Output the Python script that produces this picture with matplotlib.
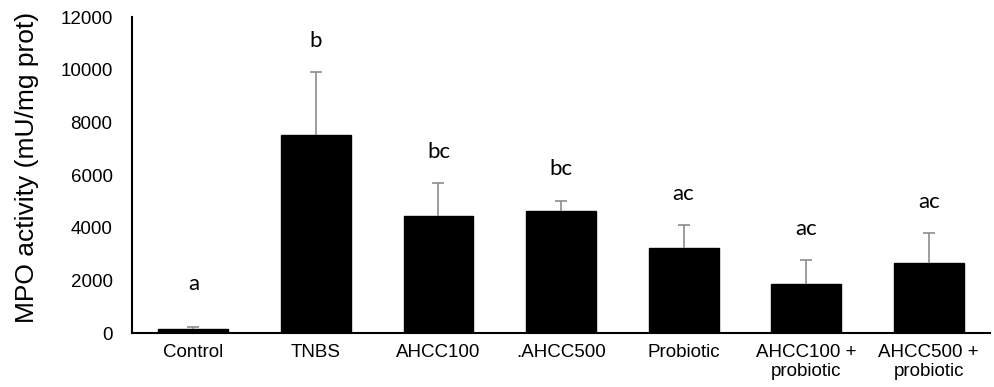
import numpy as np
import matplotlib
matplotlib.use('Agg')
import matplotlib.pyplot as plt

# group names, MPO means and upper error (sd), significance letters
groups = ['Control', 'TNBS', 'AHCC100', '.AHCC500', 'Probiotic',
          'AHCC100 +\nprobiotic', 'AHCC500 +\nprobiotic']
mpo_mean = [150, 7520, 4440, 4620, 3230, 1850, 2660]
mpo_sd = [60, 2400, 1270, 410, 880, 920, 1140]
letters = ['a', 'b', 'bc', 'bc', 'ac', 'ac', 'ac']

plt.rcParams['font.family'] = ['Liberation Sans', 'DejaVu Sans']

fig = plt.figure(figsize=(9.95, 3.87), dpi=100)
ax = fig.add_axes([0.1327, 0.1395, 0.8623, 0.8165])

x = np.arange(len(groups))
mean = np.array(mpo_mean)
top = mean + np.array(mpo_sd)
ax.bar(x, mean, width=0.57, color='black', edgecolor='black', zorder=2)
# upper-only error bars
ax.vlines(x, mean, top, color='#8c8c8c', linewidth=1.2, zorder=3)
ax.plot(x, top, linestyle='none', marker='_', markersize=8,
        markeredgewidth=1.2, color='#8c8c8c', zorder=3)

# letters sit a bit above the error bar
for i in range(len(x)):
    off = 1650 if i == 0 else 1180
    ax.text(x[i], top[i] + off, letters[i], ha='center', va='center',
            fontsize=16, family=['Lato', 'DejaVu Sans'])

ax.set_xlim(-0.5, len(groups) - 0.5)
ax.set_ylim(0, 12000)
ax.set_yticks(range(0, 12001, 2000))
ax.set_xticks(x)
ax.set_xticklabels(groups, fontsize=13.5, linespacing=1.15)
ax.tick_params(axis='y', length=0, pad=14, labelsize=13.5)
ax.tick_params(axis='x', length=0, pad=8)
fig.text(27 / 995, 1 - 167 / 387, 'MPO activity (mU/mg prot)', fontsize=19,
         rotation=90, ha='center', va='center')

ax.spines['top'].set_visible(False)
ax.spines['right'].set_visible(False)
ax.spines['left'].set_linewidth(1.5)
ax.spines['bottom'].set_linewidth(1.5)

fig.savefig('out.png', dpi=100)
